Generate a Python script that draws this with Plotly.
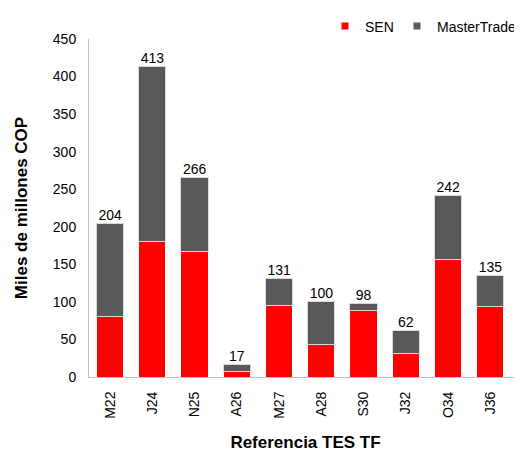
import plotly.graph_objects as go

# Datos: montos negociados por referencia TES TF (miles de millones COP)
referencias = ['M22', 'J24', 'N25', 'A26', 'M27', 'A28', 'S30', 'J32', 'O34', 'J36', 'O42']
sen = [80, 180, 167, 7, 95, 43, 88, 31, 156, 94, 86]
master_trade = [124, 233, 99, 10, 36, 57, 10, 31, 86, 41, 55]
y_ticks = [0, 50, 100, 150, 200, 250, 300, 350, 400, 450]

totales = [a + b for a, b in zip(sen, master_trade)]

fuente = dict(family='Liberation Sans, Arial, sans-serif', size=14, color='black')

fig = go.Figure()
fig.add_trace(go.Bar(x=referencias, y=sen, name='SEN', marker_color='#ff0000',
                     marker_line=dict(color='white', width=1), showlegend=False))
fig.add_trace(go.Bar(x=referencias, y=master_trade, name='MasterTrade',
                     marker_color='#595959',
                     marker_line=dict(color='#d9d9d9', width=1), showlegend=False))
fig.add_trace(go.Scatter(x=referencias, y=totales, mode='text',
                         text=[str(t) for t in totales], textposition='top center',
                         textfont=fuente, cliponaxis=False, showlegend=False))

# leyenda con marcadores pequeños (una leyenda por serie para colocarlas libremente)
fig.add_trace(go.Scatter(x=[None], y=[None], mode='markers', name='SEN', legend='legend',
                         marker=dict(symbol='square', size=7, color='#ff0000')))
fig.add_trace(go.Scatter(x=[None], y=[None], mode='markers', name='MasterTrade',
                         legend='legend2',
                         marker=dict(symbol='square', size=7, color='#595959')))

# la página tiene 8 px de margen en el body
fig.update_layout(
    width=514, height=444,
    barmode='stack', bargap=0.355,
    plot_bgcolor='white', paper_bgcolor='white',
    font=fuente,
    margin=dict(l=81, r=0, t=31, b=75),
    legend=dict(orientation='h', x=0.545, xanchor='left', y=1.037, yanchor='middle',
                font=fuente, itemwidth=30, bgcolor='rgba(0,0,0,0)'),
    legend2=dict(orientation='h', x=1, xanchor='right', y=1.037, yanchor='middle',
                 font=fuente, itemwidth=30, bgcolor='rgba(0,0,0,0)'),
)
fig.update_xaxes(range=[-0.5, 9.75], tickangle=-90, showline=True, linecolor='#bfbfbf',
                 linewidth=1, ticks='', ticklabelstandoff=8, automargin=False,
                 title=dict(text='<b>Referencia TES TF</b>', standoff=32))
fig.update_yaxes(range=[0, 450], tickvals=y_ticks, showgrid=False, zeroline=False,
                 showline=True, linecolor='#bfbfbf', linewidth=1, ticks='',
                 ticklabelstandoff=9, automargin=False,
                 title=dict(text='<b>Miles de millones COP</b>', standoff=20))

fig.write_html("out.html")
